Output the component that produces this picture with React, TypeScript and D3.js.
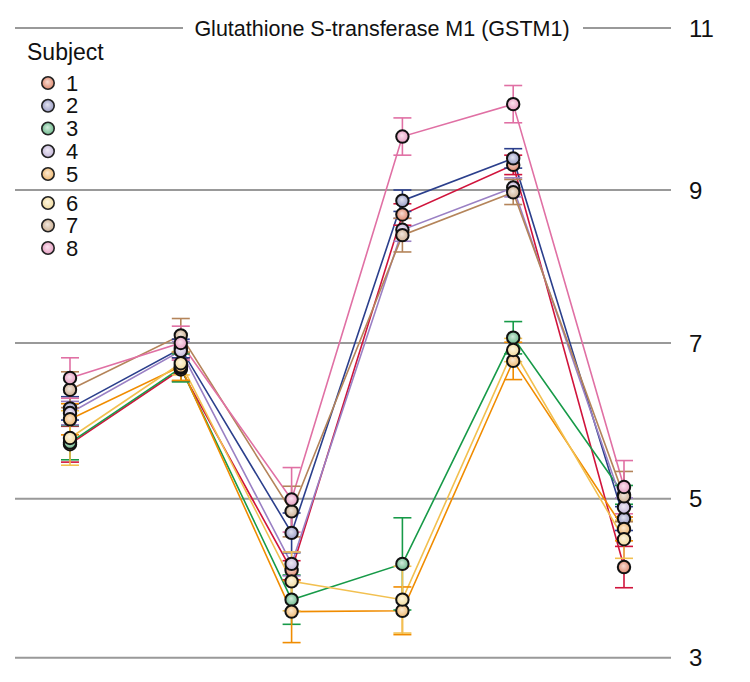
import React from "react";
import * as d3 from "d3";

const title = "Glutathione S-transferase M1 (GSTM1)";
const subjects = ["1", "2", "3", "4", "5", "6", "7", "8"];
const timepoints = [0, 1, 2, 3, 4, 5];
const yTicks = [3, 5, 7, 9, 11];

const s1 = [5.70, 6.66, 4.10, 8.68, 9.31, 4.14];
const s2 = [6.16, 6.93, 4.57, 8.86, 9.39, 4.75];
const s3 = [5.72, 6.68, 3.73, 4.18, 7.07, 5.05];
const s4 = [6.10, 6.90, 4.18, 8.48, 9.03, 4.89];
const s5 = [6.02, 6.70, 3.58, 3.59, 6.77, 4.62];
const s6 = [5.78, 6.74, 3.96, 3.73, 6.91, 4.49];
const s7 = [6.40, 7.10, 4.84, 8.41, 8.97, 5.03];
const s8 = [6.55, 7.00, 4.99, 9.66, 10.06, 5.15];

const e1 = [0.23, 0.15, 0.12, 0.14, 0.12, 0.26];
const e2 = [0.15, 0.12, 0.25, 0.14, 0.12, 0.15];
const e3 = [0.22, 0.18, 0.31, 0.58, 0.21, 0.12];
const e4 = [0.15, 0.12, 0.15, 0.15, 0.12, 0.12];
const e5 = [0.20, 0.18, 0.39, 0.30, 0.24, 0.15];
const e6 = [0.35, 0.15, 0.37, 0.42, 0.15, 0.24];
const e7 = [0.23, 0.22, 0.32, 0.22, 0.16, 0.32];
const e8 = [0.26, 0.22, 0.41, 0.23, 0.23, 0.34];

const values = [s1, s2, s3, s4, s5, s6, s7, s8];
const errors = [e1, e2, e3, e4, e5, e6, e7, e8];

const lineColors = ["#d0143c", "#2b3f8c", "#179a48", "#9a80c4", "#f08c00", "#f2c050", "#b4845a", "#e070a4"];
const fillColors = ["#e88a6c", "#9da0cc", "#6cc08e", "#cbbce2", "#f9bd6e", "#fde3a0", "#d2b292", "#f0a2c8"];

const FONT = "'Liberation Sans', Arial, Helvetica, sans-serif";

export default function App() {
  const x = d3.scalePoint<number>().domain(timepoints).range([70, 624]);
  const y = d3
    .scaleLinear()
    .domain(yTicks)
    .range([657.7, 498.7, 343, 190, 28]);

  const line = d3
    .line<number>()
    .x((_, i) => x(timepoints[i]) as number)
    .y((d) => y(d));

  const legendY = (i: number) => (i < 5 ? 83 + 22.75 * i : 203 + 22.5 * (i - 5));
  const cap = 9;

  return (
    <svg
      width={750}
      height={682}
      style={{ position: "absolute", left: 0, top: 0, background: "#fff" }}
      fontFamily={FONT}
    >
      <defs>
        {fillColors.map((c, i) => (
          <radialGradient key={i} id={`g${i}`} cx="50%" cy="50%" r="55%" fx="45%" fy="40%">
            <stop offset="0%" stopColor={d3.interpolateRgb(c, "#ffffff")(0.7)} />
            <stop offset="100%" stopColor={d3.interpolateRgb(c, "#000000")(0.05)} />
          </radialGradient>
        ))}
      </defs>
      {/* gridlines */}
      {yTicks.map((t) =>
        t === 11 ? (
          <g key={t}>
            <line x1={15} x2={183} y1={y(t)} y2={y(t)} stroke="#999" strokeWidth={2} />
            <line x1={583} x2={671} y1={y(t)} y2={y(t)} stroke="#999" strokeWidth={2} />
          </g>
        ) : (
          <line key={t} x1={15} x2={671} y1={y(t)} y2={y(t)} stroke="#999" strokeWidth={2} />
        )
      )}
      {yTicks.map((t) => (
        <text key={"l" + t} x={689} y={y(t)} dy="0.36em" fontSize={24} fill="#111">
          {t}
        </text>
      ))}
      <text x={382} y={y(11)} dy="0.36em" textAnchor="middle" fontSize={21.5} fill="#111">
        {title}
      </text>

      {/* legend */}
      <text x={27} y={60} fontSize={23} fill="#111">Subject</text>
      {subjects.map((s, i) => (
        <g key={"lg" + s}>
          <circle cx={48} cy={legendY(i)} r={6.2} fill={`url(#g${i})`} stroke="#222" strokeWidth={1.6} />
          <text x={66} y={legendY(i)} dy="0.35em" fontSize={22} fill="#111">
            {s}
          </text>
        </g>
      ))}

      {/* lines */}
      {values.map((v, i) => (
        <path key={"p" + i} d={line(v) as string} fill="none" stroke={lineColors[i]} strokeWidth={1.6} />
      ))}
      {/* error bars */}
      {values.map((v, i) =>
        v.map((d, j) => {
          const cx = x(timepoints[j]) as number;
          const lo = y(d - errors[i][j]);
          const hi = y(d + errors[i][j]);
          return (
            <g key={`e${i}-${j}`} stroke={lineColors[i]} strokeWidth={1.6}>
              <line x1={cx} x2={cx} y1={lo} y2={hi} />
              <line x1={cx - cap} x2={cx + cap} y1={lo} y2={lo} />
              <line x1={cx - cap} x2={cx + cap} y1={hi} y2={hi} />
            </g>
          );
        })
      )}
      {/* points */}
      {values.map((v, i) =>
        v.map((d, j) => (
          <circle
            key={`c${i}-${j}`}
            cx={x(timepoints[j]) as number}
            cy={y(d)}
            r={6.2}
            fill={`url(#g${i})`}
            stroke="#111"
            strokeWidth={2}
          />
        ))
      )}
    </svg>
  );
}
